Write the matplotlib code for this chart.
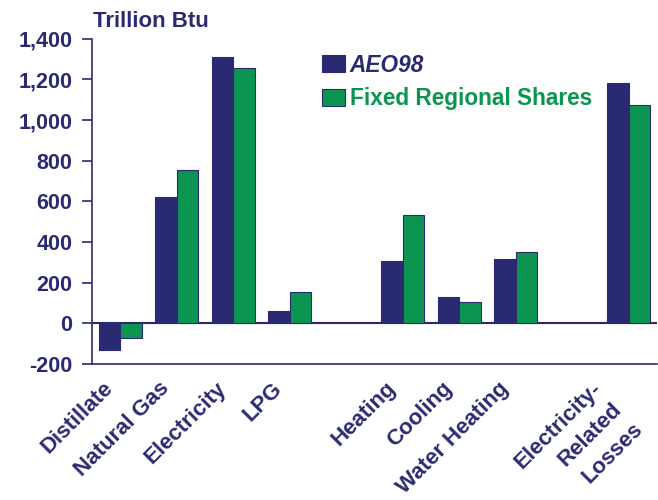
import matplotlib
matplotlib.use("Agg")
import matplotlib.pyplot as plt
import matplotlib.transforms as mtransforms
import numpy as np

# Data (trillion Btu)
categories = ["Distillate", "Natural Gas", "Electricity", "LPG",
              "Heating", "Cooling", "Water Heating", "Electricity-\nRelated\nLosses"]
# slot of each category on the x axis, empty slots separate the groups
slots = [0, 1, 2, 3, 5, 6, 7, 9]
aeo98 = [-130, 620, 1310, 60, 305, 130, 315, 1180]
fixed_shares = [-70, 755, 1255, 155, 535, 105, 350, 1075]
yticks = [-200, 0, 200, 400, 600, 800, 1000, 1200, 1400]

NAVY = "#2A2A72"
GREEN = "#0B9550"

plt.rcParams["font.family"] = ["Liberation Sans", "DejaVu Sans"]
plt.rcParams["font.weight"] = "bold"

fig = plt.figure(figsize=(6.58, 5.0), dpi=100)
ax = fig.add_axes([0.1398, 0.272, 0.8587, 0.6506])

x = np.array(slots, dtype=float)
w = 0.377
ax.bar(x - w / 2, aeo98, w, color=NAVY, edgecolor=NAVY, linewidth=0.8,
       label="AEO98", zorder=3)
ax.bar(x + w / 2, fixed_shares, w, color=GREEN, edgecolor=NAVY, linewidth=0.8,
       label="Fixed Regional Shares", zorder=3)

# zero line across the plot
ax.axhline(0, color=NAVY, lw=1.5, zorder=2)

ax.set_xlim(-0.5, 9.5)
ax.set_ylim(-200, 1400)

for side in ["top", "right"]:
    ax.spines[side].set_visible(False)
for side in ["left", "bottom"]:
    ax.spines[side].set_color(NAVY)
    ax.spines[side].set_linewidth(1.2)

ax.set_yticks(yticks)
ax.set_yticklabels([f"{v:,}" for v in yticks])
ax.tick_params(axis="y", direction="out", length=7, width=1.2, color=NAVY,
               labelcolor=NAVY, labelsize=15.5, pad=7)

# x labels: first line on the tick, any further lines stepped down-right
LABEL_PAD = 10
ax.set_xticks(x)
ax.set_xticklabels([c.split("\n")[0] for c in categories], rotation=45,
                   ha="right", rotation_mode="anchor")
ax.tick_params(axis="x", length=0, labelcolor=NAVY, labelsize=16, pad=LABEL_PAD)

for i, lab in enumerate(ax.get_xticklabels()):
    multi = "\n" in categories[i]
    dx = -0.38 if multi else -0.18  # inches, the slide labels sit left of the bars
    lab.set_transform(lab.get_transform() + mtransforms.ScaledTranslation(dx, 0, fig.dpi_scale_trans))
    for k, line in enumerate(categories[i].split("\n")[1:], start=1):
        ax.annotate(line, xy=(x[i], 0), xycoords=ax.get_xaxis_transform(),
                    xytext=(dx * 72 + 14.8 * k, -LABEL_PAD - 14.8 * k),
                    textcoords="offset points", rotation=45, ha="right", va="top",
                    rotation_mode="anchor", fontsize=16, color=NAVY)

fig.text(0.141, 0.9466, "Trillion Btu", ha="left", va="baseline",
         color=NAVY, fontsize=16, fontweight="bold")

leg = ax.legend(loc="upper left", bbox_to_anchor=(0.4068, 0.9545), frameon=False,
                fontsize=16.3, handlelength=1.01, handleheight=0.76,
                handletextpad=0.22, labelspacing=0.48, borderpad=0, borderaxespad=0)
leg.get_texts()[0].set_color(NAVY)
leg.get_texts()[0].set_fontstyle("italic")
leg.get_texts()[1].set_color(GREEN)

fig.savefig("out.png", dpi=100)
